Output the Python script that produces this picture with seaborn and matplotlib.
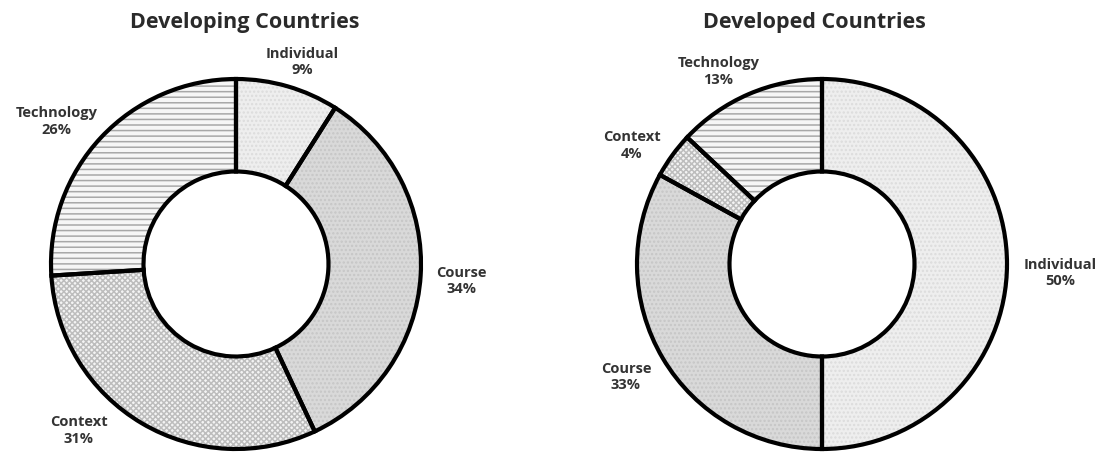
import matplotlib
matplotlib.use("Agg")
import matplotlib.pyplot as plt
import seaborn as sns

sns.set_theme(style="white")
plt.rcParams["font.family"] = ["Open Sans", "DejaVu Sans"]
plt.rcParams["hatch.linewidth"] = 1.1

# Share of barriers by category (percent), clockwise from 12 o'clock
dev_categories = ["Individual", "Course", "Context", "Technology"]
dev_values = [9, 34, 31, 26]

ed_categories = ["Individual", "Course", "Context", "Technology"]
ed_values = [50, 33, 4, 13]

titles = ["Developing Countries", "Developed Countries"]

# Fill style for every category: face colour, hatch, hatch colour
styles = {
    "Individual": ("#eeeeee", "....", "#dcdcdc"),
    "Course": ("#d9d9d9", "....", "#c6c6c6"),
    "Context": ("#f4f4f4", "xxxxxx", "#bdbdbd"),
    "Technology": ("#f6f6f6", "---", "#a8a8a8"),
}

# Label anchors in units of the outer radius
dev_label_pos = [(0.36, 1.09), (1.22, -0.09), (-0.85, -0.90), (-0.97, 0.77)]
ed_label_pos = [(1.29, -0.05), (-1.06, -0.61), (-1.03, 0.64), (-0.56, 1.04)]

W, H = 1103, 454
fig = plt.figure(figsize=(W / 100, H / 100), dpi=100)
R = 185.0  # pixels per unit radius
cy = 264.0


def make_axes(px0, px1, cx):
    ax = fig.add_axes([px0 / W, 0, (px1 - px0) / W, 1])
    return ax, ((px0 - cx) / R, (px1 - cx) / R), (-(H - cy) / R, cy / R)


def donut(ax, cats, vals, label_pos, title, title_x):
    faces = [styles[c][0] for c in cats]
    hatches = [styles[c][1] for c in cats]
    hcols = [styles[c][2] for c in cats]
    wedges, _ = ax.pie(vals, startangle=90, counterclock=False, colors=faces,
                       radius=1.0, wedgeprops=dict(width=0.5, linewidth=0),
                       frame=True)
    for w, h, hc in zip(wedges, hatches, hcols):
        w.set_hatch(h)
        w.set_edgecolor(hc)
    ax.pie(vals, startangle=90, counterclock=False, radius=1.0,
           wedgeprops=dict(width=0.5, linewidth=3.0,
                           edgecolor="black", fill=False),
           frame=True)
    for c, v, (x, y) in zip(cats, vals, label_pos):
        ax.text(x, y, f"{c}\n{v}%", ha="center", va="center",
                fontsize=10.5, fontweight="bold", color="#333333",
                linespacing=1.2)
    ax.text(title_x, (cy - 23) / R, title, ha="center", va="center",
            fontsize=15.5, fontweight="bold", color="#2a2a2a")


for (px0, px1, cx), cats, vals, pos, title, tx in [
    ((0, 540, 236), dev_categories, dev_values, dev_label_pos, titles[0], 0.05),
    ((560, 1103, 822), ed_categories, ed_values, ed_label_pos, titles[1], -0.04),
]:
    ax, xl, yl = make_axes(px0, px1, cx)
    donut(ax, cats, vals, pos, title, tx)
    ax.set_aspect("auto")
    ax.set_xlim(*xl)
    ax.set_ylim(*yl)
    ax.axis("off")

fig.savefig("out.png", dpi=100, facecolor="white")
